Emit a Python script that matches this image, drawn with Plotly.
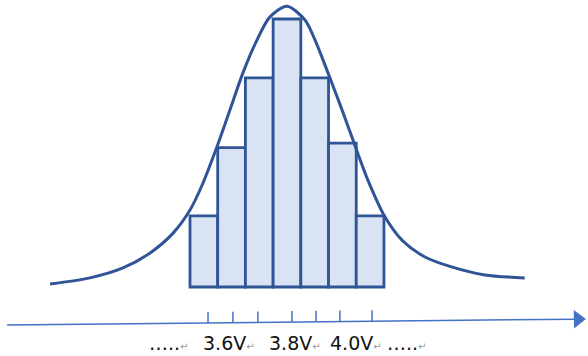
import plotly.graph_objects as go

# histogram bins (bin index) and heights (arbitrary count units, peak = 10)
bins = [0, 1, 2, 3, 4, 5, 6]
counts = [2.65, 5.2, 7.8, 10.0, 7.8, 5.37, 2.65]

# bell curve drawn over the bars (same units)
curve_x = [-5.55, -4.11, -2.92, -1.94, -1.11, -0.50, -0.03, 0.47, 0.94, 1.41,
           1.92, 2.38, 3.0, 3.65, 4.01, 4.48, 4.99, 5.38, 5.92, 6.54,
           7.15, 7.98, 8.94, 10.14, 11.58]
curve_y = [0.11, 0.34, 0.71, 1.27, 2.01, 2.87, 3.88, 5.22, 6.60, 7.99,
           9.22, 10.07, 10.48, 9.96, 9.22, 7.99, 6.60, 5.49, 3.99, 2.61,
           1.75, 1.12, 0.75, 0.45, 0.34]

# tick marks on the voltage arrow
tick_x = [0.15, 1.05, 1.95, 3.18, 4.05, 4.91, 6.07]

# labels under the arrow
labels = ["\u2026..", "3.6V", "3.8V", "4.0V", "\u2026.."]
label_x = [-2.05, -0.1, 2.28, 4.48, 6.54]

# arrow line (start / end in data units)
axis_x0, axis_y0 = -7.1, -1.418
axis_x1, axis_y1 = 13.5, -1.20
tick_len = 0.41

BLUE_DARK = "#2F5597"
BLUE = "#4472C4"
FILL = "#DAE3F3"

fig = go.Figure()

fig.add_trace(go.Bar(
    x=bins, y=counts, width=1,
    marker=dict(color=FILL, line=dict(color=BLUE_DARK, width=2.8)),
    hoverinfo="skip",
))

fig.add_trace(go.Scatter(
    x=curve_x, y=curve_y, mode="lines",
    line=dict(color=BLUE_DARK, width=3, shape="spline", smoothing=0.8),
    hoverinfo="skip",
))

# arrow line
fig.add_trace(go.Scatter(
    x=[axis_x0, axis_x1], y=[axis_y0, axis_y1], mode="lines",
    line=dict(color=BLUE, width=1.5), hoverinfo="skip",
))
fig.add_trace(go.Scatter(
    x=[axis_x1], y=[axis_y1], mode="markers",
    marker=dict(symbol="triangle-right", size=16, color=BLUE, angle=-1),
    hoverinfo="skip",
))

# tick marks sit on the (slightly sloped) arrow line
slope = (axis_y1 - axis_y0) / (axis_x1 - axis_x0)
tx, ty = [], []
for t in tick_x:
    base = axis_y0 + slope * (t - axis_x0)
    tx += [t, t, None]
    ty += [base, base + tick_len, None]
fig.add_trace(go.Scatter(
    x=tx, y=ty, mode="lines",
    line=dict(color=BLUE, width=1.5), hoverinfo="skip",
))

ret = "<span style='font-size:10px;color:#9a9a9a'>\u21b5</span>"
for lab, lx in zip(labels, label_x):
    fig.add_annotation(
        x=lx, y=-2.08, xref="x", yref="y",
        text=lab + ret, showarrow=False,
        xanchor="left", yanchor="middle",
        font=dict(family="DejaVu Sans", size=19, color="#111111"),
    )

fig.update_layout(
    width=588, height=356,
    margin=dict(l=0, r=0, t=0, b=0),
    paper_bgcolor="white", plot_bgcolor="white",
    showlegend=False,
)
fig.update_xaxes(range=[-7.357, 13.864], visible=False)
fig.update_yaxes(range=[-2.575, 10.709], visible=False)

# drop the browser's default body margin so the figure fills the window
fig.write_html("out.html", config={"displayModeBar": False},
               post_script="document.body.style.margin='0';")
